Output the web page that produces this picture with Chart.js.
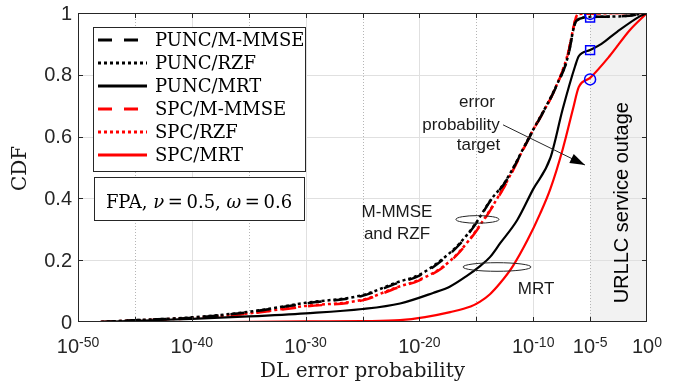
<!DOCTYPE html>
<html>
<head>
<meta charset="utf-8">
<script src="https://cdn.jsdelivr.net/npm/chart.js@4.4.1/dist/chart.umd.min.js"></script>
<style>
  html, body { margin: 0; padding: 0; background: #fff; }
  #wrap { width: 679px; height: 390px; }
</style>
</head>
<body>
<div id="wrap"><canvas id="cdfChart" width="679" height="390"></canvas></div>
<script>
// x values are exponents e of the DL error probability (10^e), y values are the CDF
const puncMmseExp = [-48, -45, -40, -35, -30, -25, -22, -20, -18, -16.5, -15, -13.8, -12.5, -10.3, -8, -7, -6.2, -5, -2, 0];
const puncMmseCdf = [0, 0.006, 0.014, 0.032, 0.06, 0.085, 0.125, 0.15, 0.2, 0.25, 0.32, 0.39, 0.45, 0.6, 0.76, 0.85, 0.975, 0.987, 0.99, 1.0];
const puncRzfExp = [-48, -45, -40, -35, -30, -25, -22, -20, -18, -16.5, -15, -13.8, -12.5, -10.3, -8, -7, -6.2, -5, -2, 0];
const puncRzfCdf = [0, 0.006, 0.015, 0.033, 0.062, 0.087, 0.128, 0.153, 0.203, 0.253, 0.322, 0.392, 0.452, 0.602, 0.762, 0.852, 0.976, 0.987, 0.99, 1.0];
const puncMrtExp = [-48, -45, -40, -35, -30, -25, -21.7, -18.8, -17.3, -15.8, -14.7, -13.8, -12.9, -11.4, -10, -8.5, -7.4, -6.3, -6, -5, -4, -2.6, -0.6, 0];
const puncMrtCdf = [0, 0.004, 0.01, 0.018, 0.028, 0.042, 0.06, 0.094, 0.115, 0.15, 0.18, 0.21, 0.255, 0.33, 0.43, 0.53, 0.69, 0.83, 0.86, 0.88, 0.9, 0.94, 0.99, 1.0];
const spcMmseExp = [-48, -45, -40, -35, -30, -25, -22, -20, -18, -16.5, -14.7, -12.5, -10.3, -8, -7, -6.2, -6, 0];
const spcMmseCdf = [0, 0.005, 0.012, 0.027, 0.05, 0.07, 0.11, 0.135, 0.175, 0.225, 0.31, 0.44, 0.6, 0.76, 0.86, 0.99, 0.997, 1.0];
const spcRzfExp = [-48, -45, -40, -35, -30, -25, -22, -20, -18, -16.5, -14.7, -12.5, -10.3, -8, -7, -6.2, -6, 0];
const spcRzfCdf = [0, 0.005, 0.013, 0.028, 0.052, 0.072, 0.112, 0.137, 0.177, 0.227, 0.312, 0.442, 0.602, 0.762, 0.862, 0.99, 0.997, 1.0];
const spcMrtExp = [-37, -30, -25, -21.7, -19.5, -17.3, -15.5, -14.7, -13.8, -12.9, -11.8, -10.5, -9.4, -8.5, -7.4, -6.5, -6, -5, -3.3, -1.5, 0];
const spcMrtCdf = [0, 0.002, 0.003, 0.006, 0.016, 0.032, 0.05, 0.065, 0.09, 0.126, 0.18, 0.265, 0.35, 0.43, 0.56, 0.69, 0.76, 0.79, 0.86, 0.945, 1.0];

// blue markers at the error probability target
const targetExp = -5;
const circleCdf = [0.997, 0.785];
const squareCdf = [0.985, 0.88];

// axis ticks
const xTickExps = [-50, -40, -30, -20, -10, -5, 0];
const xMinorExps = [-45, -35, -25, -15, -5];
const xMajorExps = [-40, -30, -20, -10];
const yTicks = [0, 0.2, 0.4, 0.6, 0.8, 1];
const outageExp = [-5, 0];

const toPoints = (exps, cdf) => exps.map((e, i) => ({ x: Math.pow(10, e), y: cdf[i] }));

const SANS = '"Liberation Sans", Arial, sans-serif';
const SERIF = '"DejaVu Serif", serif';
const AXIS = '#262626';

function line(ctx, x1, y1, x2, y2) {
    ctx.beginPath();
    ctx.moveTo(x1, y1);
    ctx.lineTo(x2, y2);
    ctx.stroke();
}

const decorations = {
    id: 'decorations',
    beforeDatasetsDraw(chart) {
        const { ctx, chartArea: a, scales: { x, y } } = chart;
        ctx.save();
        // shaded outage region
        const sx1 = x.getPixelForValue(Math.pow(10, outageExp[0]));
        const sx2 = x.getPixelForValue(Math.pow(10, outageExp[1]));
        ctx.fillStyle = '#f2f2f2';
        ctx.fillRect(sx1, a.top, sx2 - sx1, a.bottom - a.top);
        // grid
        ctx.lineWidth = 1;
        ctx.strokeStyle = '#e0e0e0';
        xMajorExps.forEach(e => {
            const px = Math.round(x.getPixelForValue(Math.pow(10, e))) + 0.5;
            line(ctx, px, a.top, px, a.bottom);
        });
        yTicks.slice(1, -1).forEach(v => {
            const py = Math.round(y.getPixelForValue(v)) + 0.5;
            line(ctx, a.left, py, a.right, py);
        });
        ctx.strokeStyle = '#b5b5b5';
        ctx.setLineDash([1, 2]);
        xMinorExps.forEach(e => {
            const px = Math.round(x.getPixelForValue(Math.pow(10, e))) + 0.5;
            line(ctx, px, a.top, px, a.bottom);
        });
        ctx.restore();
    },
    afterDraw(chart) {
        const { ctx, chartArea: a, scales: { x, y } } = chart;
        const P = (e, v) => [x.getPixelForValue(Math.pow(10, e)), y.getPixelForValue(v)];
        ctx.save();

        // axes box and tick marks
        ctx.strokeStyle = AXIS;
        ctx.lineWidth = 1;
        ctx.strokeRect(a.left + 0.5, a.top + 0.5, a.right - a.left - 1, a.bottom - a.top - 1);
        for (let e = -45; e < 0; e += 5) {
            const px = Math.round(x.getPixelForValue(Math.pow(10, e))) + 0.5;
            line(ctx, px, a.bottom, px, a.bottom - 5);
            line(ctx, px, a.top, px, a.top + 5);
        }
        yTicks.slice(1, -1).forEach(v => {
            const py = Math.round(y.getPixelForValue(v)) + 0.5;
            line(ctx, a.left, py, a.left + 5, py);
            line(ctx, a.right, py, a.right - 5, py);
        });

        // y tick labels
        ctx.fillStyle = AXIS;
        ctx.font = '20px ' + SANS;
        ctx.textAlign = 'right';
        ctx.textBaseline = 'middle';
        yTicks.forEach(v => ctx.fillText(String(v), a.left - 6, y.getPixelForValue(v) + 1));

        // x tick labels 10^e
        ctx.textAlign = 'left';
        ctx.textBaseline = 'alphabetic';
        xTickExps.forEach(e => {
            const cx = x.getPixelForValue(Math.pow(10, e));
            ctx.font = '20px ' + SANS;
            const wb = ctx.measureText('10').width;
            ctx.font = '14px ' + SANS;
            const we = ctx.measureText(String(e)).width;
            const x0 = cx - (wb + we) / 2;
            ctx.font = '20px ' + SANS;
            ctx.fillText('10', x0, a.bottom + 31);
            ctx.font = '14px ' + SANS;
            ctx.fillText(String(e), x0 + wb, a.bottom + 25);
        });

        // axis titles
        ctx.fillStyle = '#1a1a1a';
        ctx.font = '20px ' + SERIF;
        ctx.textAlign = 'center';
        ctx.fillText('DL error probability', (a.left + a.right) / 2, a.bottom + 55);
        ctx.save();
        ctx.translate(26, (a.top + a.bottom) / 2 + 1);
        ctx.rotate(-Math.PI / 2);
        ctx.fillText('CDF', 0, 0);
        ctx.restore();

        // annotations
        ctx.fillStyle = '#1a1a1a';
        ctx.font = '17px ' + SANS;
        ctx.textAlign = 'center';
        [['error', -14.94, 0.696], ['probability', -16.34, 0.621], ['target', -14.81, 0.557],
         ['M-MMSE', -21.97, 0.34], ['and RZF', -21.97, 0.269], ['MRT', -9.75, 0.091]].forEach(t => {
            const [px, py] = P(t[1], t[2]);
            ctx.fillText(t[0], px, py);
        });
        // arrow
        const [ax1, ay1] = P(-12.65, 0.638);
        const [ax2, ay2] = P(-5.45, 0.508);
        ctx.strokeStyle = '#262626';
        ctx.lineWidth = 1;
        line(ctx, ax1, ay1, ax2, ay2);
        const ang = Math.atan2(ay2 - ay1, ax2 - ax1);
        ctx.fillStyle = '#000';
        ctx.beginPath();
        ctx.moveTo(ax2, ay2);
        ctx.lineTo(ax2 - 15 * Math.cos(ang) + 5 * Math.sin(ang), ay2 - 15 * Math.sin(ang) - 5 * Math.cos(ang));
        ctx.lineTo(ax2 - 15 * Math.cos(ang) - 5 * Math.sin(ang), ay2 - 15 * Math.sin(ang) + 5 * Math.cos(ang));
        ctx.closePath();
        ctx.fill();
        // ellipses
        [[-14.9, 0.332, 21.5, 3.8], [-13.18, 0.178, 34, 4.3]].forEach(el => {
            const [cx, cy] = P(el[0], el[1]);
            ctx.beginPath();
            ctx.ellipse(cx, cy, el[2], el[3], 0, 0, Math.PI * 2);
            ctx.stroke();
        });
        // outage label
        ctx.save();
        const [ox, oy] = P(-2.3, 0.386);
        ctx.translate(ox + 7, oy);
        ctx.rotate(-Math.PI / 2);
        ctx.fillStyle = '#000';
        ctx.font = '20px ' + SANS;
        ctx.textAlign = 'center';
        ctx.fillText('URLLC service outage', 0, 0);
        ctx.restore();

        // legend box
        const lx = a.left + 15, ly = a.top + 14, lw = 212, lh = 144;
        ctx.fillStyle = '#fff';
        ctx.fillRect(lx, ly, lw, lh);
        ctx.strokeStyle = AXIS;
        ctx.lineWidth = 1;
        ctx.strokeRect(lx + 0.5, ly + 0.5, lw, lh);
        ctx.font = '18px ' + SERIF;
        ctx.textAlign = 'left';
        ctx.textBaseline = 'middle';
        chart.data.datasets.filter(d => d.label).forEach((d, i) => {
            const yy = ly + 13 + i * 23;
            ctx.strokeStyle = d.borderColor;
            ctx.lineWidth = 3;
            ctx.setLineDash(d.borderDash || []);
            line(ctx, lx + 5, yy, lx + 54, yy);
            ctx.setLineDash([]);
            ctx.fillStyle = '#000';
            ctx.fillText(d.label, lx + 62, yy + 1);
        });

        // parameter box
        const bx = a.left + 16, by = a.top + 164, bw = 210, bh = 43;
        ctx.fillStyle = '#fff';
        ctx.fillRect(bx, by, bw, bh);
        ctx.strokeStyle = AXIS;
        ctx.lineWidth = 1;
        ctx.strokeRect(bx + 0.5, by + 0.5, bw, bh);
        const parts = [['FPA, ', false], ['\u03bd', true], ['\u2009=\u20090.5, ', false], ['\u03c9', true], ['\u2009=\u20090.6', false]];
        let tw = 0;
        parts.forEach(p => { ctx.font = (p[1] ? 'italic ' : '') + '18px ' + SERIF; tw += ctx.measureText(p[0]).width; });
        let tx = bx + bw / 2 - tw / 2;
        ctx.textBaseline = 'alphabetic';
        ctx.fillStyle = '#000';
        parts.forEach(p => {
            ctx.font = (p[1] ? 'italic ' : '') + '18px ' + SERIF;
            ctx.fillText(p[0], tx, by + 31);
            tx += ctx.measureText(p[0]).width;
        });
        ctx.restore();
    }
};

new Chart(document.getElementById('cdfChart'), {
    type: 'line',
    data: {
        datasets: [
            { label: 'PUNC/M-MMSE', data: toPoints(puncMmseExp, puncMmseCdf), borderColor: '#000000', borderDash: [14, 12], borderWidth: 2.5 },
            { label: 'PUNC/RZF', data: toPoints(puncRzfExp, puncRzfCdf), borderColor: '#000000', borderDash: [3, 3], borderWidth: 2.5 },
            { label: 'PUNC/MRT', data: toPoints(puncMrtExp, puncMrtCdf), borderColor: '#000000', borderWidth: 2.2 },
            { label: 'SPC/M-MMSE', data: toPoints(spcMmseExp, spcMmseCdf), borderColor: '#ff0000', borderDash: [14, 12], borderWidth: 2.5 },
            { label: 'SPC/RZF', data: toPoints(spcRzfExp, spcRzfCdf), borderColor: '#ff0000', borderDash: [3, 3], borderWidth: 2.5 },
            { label: 'SPC/MRT', data: toPoints(spcMrtExp, spcMrtCdf), borderColor: '#ff0000', borderWidth: 2.2 },
            { type: 'scatter', label: null, order: -1,
              data: circleCdf.map(v => ({ x: Math.pow(10, targetExp), y: v })),
              pointStyle: 'circle', pointRadius: 5.5, borderColor: '#0000ff', backgroundColor: 'rgba(0,0,0,0)', borderWidth: 1.5 },
            { type: 'scatter', label: null, order: -1,
              data: squareCdf.map(v => ({ x: Math.pow(10, targetExp), y: v })),
              pointStyle: 'rect', pointRadius: 6.3, borderColor: '#0000ff', backgroundColor: 'rgba(0,0,0,0)', borderWidth: 1.5 }
        ]
    },
    options: {
        responsive: false,
        animation: false,
        layout: { padding: { top: 13, right: 32, left: 0, bottom: 0 } },
        elements: { point: { radius: 0 }, line: { cubicInterpolationMode: 'monotone', fill: false } },
        plugins: { legend: { display: false }, tooltip: { enabled: false } },
        scales: {
            x: {
                type: 'logarithmic',
                min: 1e-50,
                max: 1,
                afterBuildTicks: s => { s.ticks = xTickExps.map(e => ({ value: Math.pow(10, e) })); },
                afterFit: s => { s.height = 68; },
                ticks: { display: false },
                grid: { display: false },
                border: { display: false }
            },
            y: {
                min: 0,
                max: 1,
                afterBuildTicks: s => { s.ticks = yTicks.map(v => ({ value: v })); },
                afterFit: s => { s.width = 78; },
                ticks: { display: false },
                grid: { display: false },
                border: { display: false }
            }
        }
    },
    plugins: [decorations]
});
</script>
</body>
</html>
